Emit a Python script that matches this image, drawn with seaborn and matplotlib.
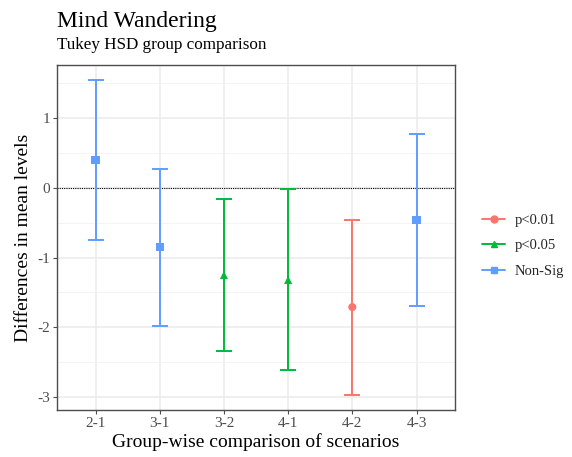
import numpy as np
import pandas as pd
import seaborn as sns
import matplotlib
matplotlib.use("Agg")
import matplotlib.pyplot as plt
from matplotlib.lines import Line2D
from matplotlib.ticker import MultipleLocator

# Data
comparisons = ["2-1", "3-1", "3-2", "4-1", "4-2", "4-3"]
diff = [0.40, -0.85, -1.25, -1.32, -1.71, -0.46]
lower = [-0.75, -1.98, -2.34, -2.61, -2.97, -1.69]
upper = [1.55, 0.27, -0.16, -0.02, -0.46, 0.77]
signif = ["Non-Sig", "Non-Sig", "p<0.05", "p<0.05", "p<0.01", "Non-Sig"]

levels = ["p<0.01", "p<0.05", "Non-Sig"]
colors = {"p<0.01": "#F8766D", "p<0.05": "#00BA38", "Non-Sig": "#619CFF"}
markers = {"p<0.01": "o", "p<0.05": "^", "Non-Sig": "s"}

df = pd.DataFrame({"comp": comparisons, "diff": diff, "lwr": lower, "upr": upper, "sig": signif})
df["x"] = np.arange(len(df))

sns.set_theme(style="whitegrid")
plt.rcParams["font.family"] = ["Liberation Serif", "DejaVu Serif"]
plt.rcParams["axes.unicode_minus"] = False

fig = plt.figure(figsize=(5.72, 4.57), dpi=100)
ax = fig.add_axes([0.0997, 0.103, 0.6958, 0.755])

# error bars per significance group
for lev in levels:
    sub = df[df["sig"] == lev]
    ax.errorbar(sub["x"], sub["diff"],
                yerr=[sub["diff"] - sub["lwr"], sub["upr"] - sub["diff"]],
                fmt="none", ecolor=colors[lev], elinewidth=1.4, capsize=6, capthick=1.4, zorder=3)

sns.scatterplot(data=df, x="x", y="diff", hue="sig", style="sig", hue_order=levels, style_order=levels,
                palette=colors, markers=markers, s=34, linewidth=0, ax=ax, zorder=4, legend=False)

ax.axhline(0, color="black", linestyle=(0, (1, 1)), linewidth=0.8, zorder=2)

ax.set_xlim(-0.6, 5.6)
ax.set_ylim(-3.185, 1.765)
ax.set_xticks(df["x"])
ax.set_xticklabels(comparisons)
ax.yaxis.set_major_locator(MultipleLocator(1))
ax.yaxis.set_minor_locator(MultipleLocator(0.5))
ax.grid(which="major", color="#EBEBEB", linewidth=1.1)
ax.grid(which="minor", axis="y", color="#F2F2F2", linewidth=0.6)
ax.set_axisbelow(True)
for s in ax.spines.values():
    s.set_color("#4D4D4D")
    s.set_linewidth(1.0)
ax.tick_params(axis="both", which="major", length=3, width=0.8, color="#4D4D4D",
               labelcolor="#4D4D4D", labelsize=11, pad=2, bottom=True, left=True)
ax.tick_params(axis="both", which="minor", length=0)

ax.set_xlabel("Group-wise comparison of scenarios", fontsize=14, color="black", labelpad=2)
ax.set_ylabel("Differences in mean levels", fontsize=14, color="black", labelpad=4)

fig.text(0.1, 0.94, "Mind Wandering", fontsize=17, color="black", ha="left", va="baseline")
fig.text(0.1, 0.893, "Tukey HSD group comparison", fontsize=12.3, color="black", ha="left", va="baseline")

handles = [Line2D([0], [0], color=colors[l], marker=markers[l], markersize=5, linewidth=1.4) for l in levels]
fig.legend(handles, levels, loc="center left", bbox_to_anchor=(0.82, 0.462), frameon=False,
           fontsize=10.5, handlelength=1.6, labelspacing=0.85, handletextpad=0.6)

fig.savefig("out.png", dpi=100)
